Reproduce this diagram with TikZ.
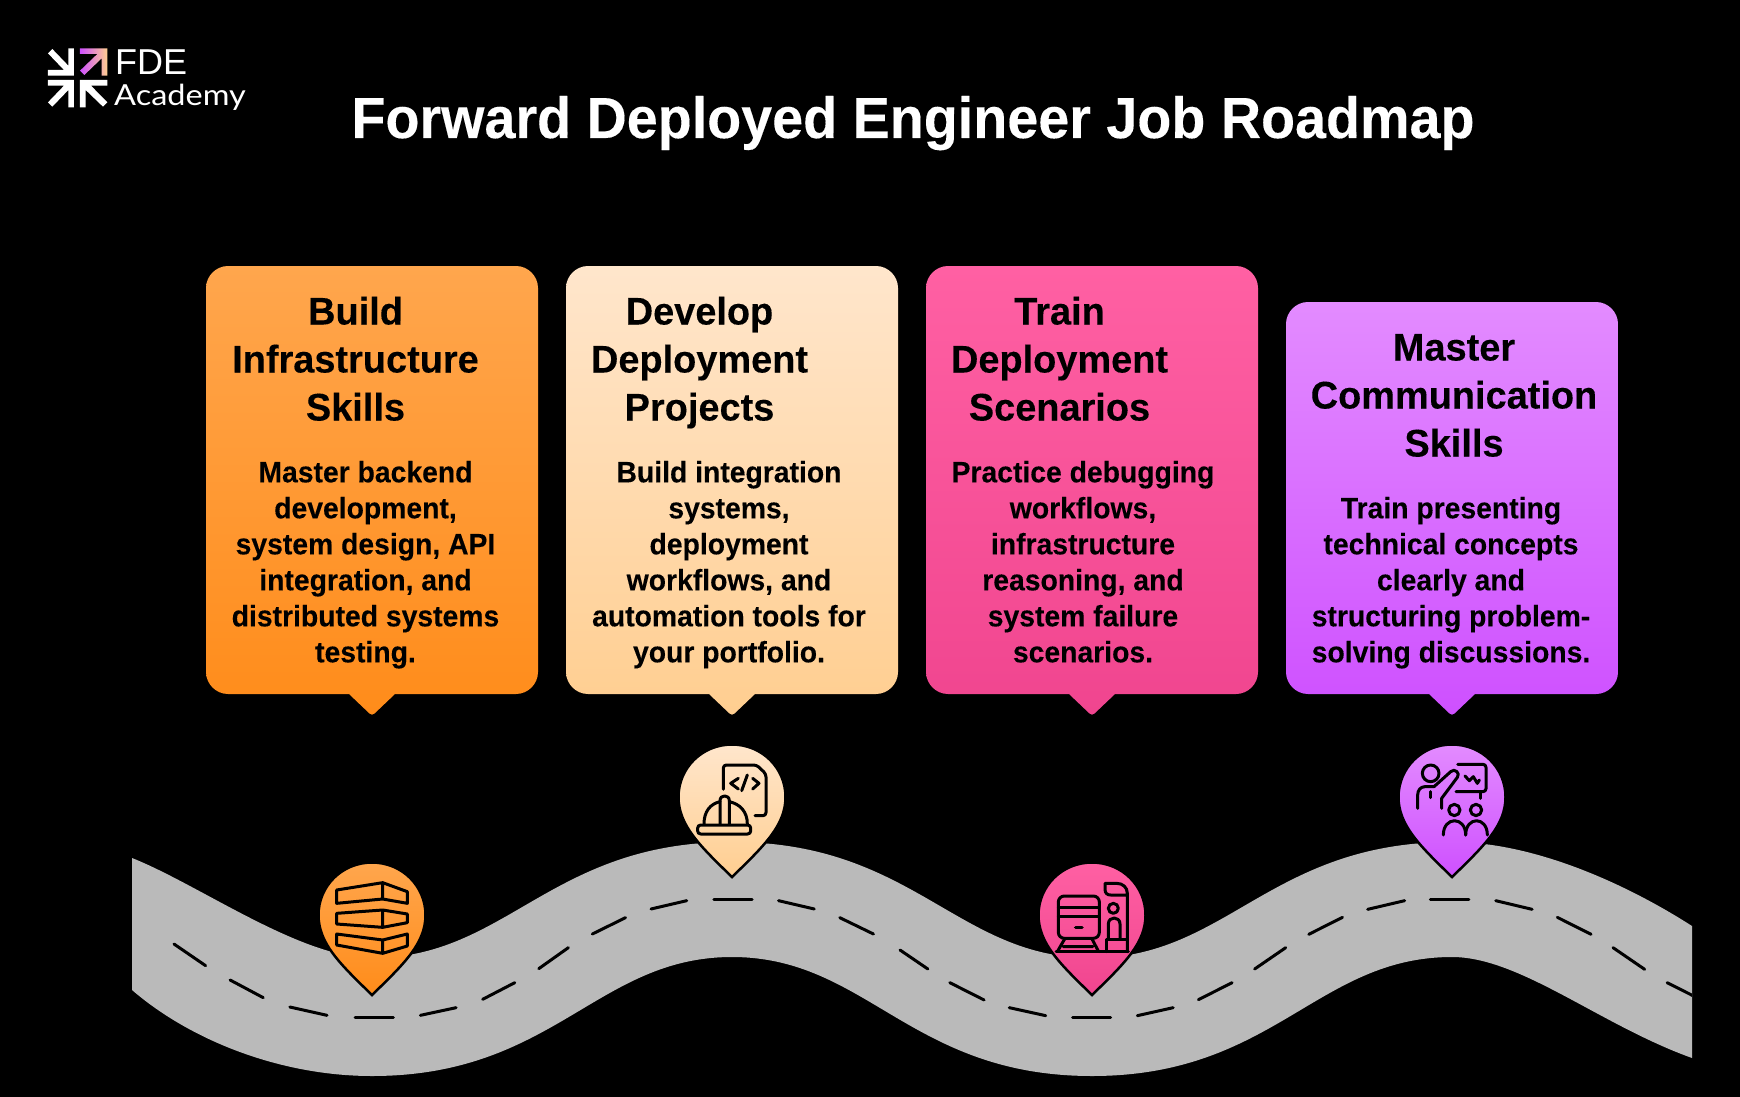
\documentclass[tikz,border=0pt]{standalone}
\usepackage{fontspec}
\setmainfont{Liberation Sans}
\newfontfamily\robo[FakeStretch=0.96,FakeBold=0.2]{Liberation Sans Bold}
\newfontfamily\robohead[FakeStretch=0.985,FakeBold=0.2]{Liberation Sans Bold}
\newfontfamily\acad[FakeStretch=1.12]{Lato}
\definecolor{oT}{HTML}{FFA64D}\definecolor{oB}{HTML}{FF8C1A}
\definecolor{cT}{HTML}{FFE6CC}\definecolor{cB}{HTML}{FFCE90}
\definecolor{pT}{HTML}{FF60A3}\definecolor{pB}{HTML}{F0458F}
\definecolor{vT}{HTML}{E38BFF}\definecolor{vB}{HTML}{CE50FF}
\definecolor{roadc}{HTML}{BABABA}
\tikzset{
  headtxt/.style={anchor=base,inner sep=0pt,align=center,text=black,font=\robohead\fontsize{38.5}{48}\selectfont},
  bodytxt/.style={anchor=base,inner sep=0pt,align=center,text=black,font=\robo\fontsize{29.5}{36}\selectfont},
  icon/.style={draw=black,line width=3pt,line cap=round,line join=round,fill=none},
  zoomthree/.style={x=0.33333pt,y=-0.33333pt},
  roaddash/.style={draw=black,line width=3pt,line cap=round},
}
\newcommand{\cardshape}[6]{% left right top bottom top-colour bottom-colour
  \pgfmathsetmacro{\cx}{(#1+#2)/2}
  \path[top color=#5,bottom color=#6]
    (#1+22,#3) -- (#2-22,#3) .. controls (#2-10,#3) and (#2,#3+10) .. (#2,#3+22)
    -- (#2,#4-22) .. controls (#2,#4-10) and (#2-10,#4) .. (#2-22,#4)
    -- (\cx+23,#4) -- (\cx+2.5,#4+19.5) .. controls (\cx+1,#4+21) and (\cx-1,#4+21) .. (\cx-2.5,#4+19.5)
    -- (\cx-23,#4) -- (#1+22,#4) .. controls (#1+10,#4) and (#1,#4-10) .. (#1,#4-22)
    -- (#1,#3+22) .. controls (#1,#3+10) and (#1+10,#3) .. (#1+22,#3) -- cycle;
}
\newcommand{\pinshape}[4]{% tip-x tip-y top bottom
  \path[draw=black,line width=2.5pt,line join=miter,top color=#3,bottom color=#4,shift={(#1,#2)}]
    (0,0) .. controls (-33,-32) and (-53.5,-52) .. (-53.5,-80)
    .. controls (-53.5,-109) and (-30,-132.5) .. (0,-132.5)
    .. controls (30,-132.5) and (53.5,-109) .. (53.5,-80)
    .. controls (53.5,-52) and (33,-32) .. (0,0) -- cycle;
}
\begin{document}
\begin{tikzpicture}[x=1pt,y=-1pt]
\useasboundingbox (0,0) rectangle (1740,1097);
\fill[black] (0,0) rectangle (1740,1097);

% logo
\begin{scope}[shift={(0,20)},zoomthree]
  \fill[white] (222,167)--(144,167)--(144,150)--(192,150)--(144,100)--(157,87)--(205,137)--(205,85)--(222,85)--cycle;
  \fill[white] (222,180)--(144,180)--(144,197)--(192,197)--(144,247)--(157,260)--(205,210)--(205,262)--(222,262)--cycle;
  \fill[white] (240,180)--(322,180)--(322,197)--(273,197)--(322,247)--(309,260)--(257,210)--(257,262)--(240,262)--cycle;
  \path[left color=vB,middle color=pT,right color=cB] (322,85)--(240,85)--(240,102)--(292,102)--(240,152)--(253,165)--(305,115)--(305,167)--(322,167)--cycle;
\end{scope}
\node[anchor=base west,inner sep=0pt,text=white,font=\fontsize{36}{36}\selectfont] (logofde) at (115,75) {FDE};
\node[anchor=base west,inner sep=0pt,text=white,font=\acad\fontsize{29}{29}\selectfont] (logoacad) at (114,106) {Academy};

% title
\node[anchor=base,inner sep=0pt,text=white,font=\robo\fontsize{58}{58}\selectfont] (title) at (913,138) {Forward Deployed Engineer Job Roadmap};

% cards
\cardshape{206}{538}{266}{694}{oT}{oB}
\cardshape{566}{898}{266}{694}{cT}{cB}
\cardshape{926}{1258}{266}{694}{pT}{pB}
\cardshape{1286}{1618}{302}{694}{vT}{vB}

% card texts
\node[headtxt] (h1) at (355.5,420.5) {Build\\Infrastructure\\Skills};
\node[headtxt] (h2) at (699.5,420.5) {Develop\\Deployment\\Projects};
\node[headtxt] (h3) at (1059.5,420.5) {Train\\Deployment\\Scenarios};
\node[headtxt] (h4) at (1454,456.5) {Master\\Communication\\Skills};
\node[bodytxt] (b1) at (365.5,662.3) {Master backend\\development,\\system design, API\\integration, and\\distributed systems\\testing.};
\node[bodytxt] (b2) at (729,662.3) {Build integration\\systems,\\deployment\\workflows, and\\automation tools for\\your portfolio.};
\node[bodytxt] (b3) at (1083,662.3) {Practice debugging\\workflows,\\infrastructure\\reasoning, and\\system failure\\scenarios.};
\node[bodytxt] (b4) at (1451,662.3) {Train presenting\\technical concepts\\clearly and\\structuring problem-\\solving discussions.};

% road
\fill[roadc] (132,858) .. controls (200,885) and (300,958) .. (372,958)
  .. controls (507,958) and (550,842) .. (732,842)
  .. controls (914,842) and (957,958) .. (1092,958)
  .. controls (1227,958) and (1270,842) .. (1452,842)
  .. controls (1530,842) and (1620,880) .. (1692,926)
  -- (1692,1058)
  .. controls (1600,1025) and (1520,957) .. (1452,957)
  .. controls (1317,957) and (1274,1076) .. (1092,1076)
  .. controls (910,1076) and (867,957) .. (732,957)
  .. controls (597,957) and (554,1076) .. (372,1076)
  .. controls (280,1076) and (190,1040) .. (132,990) -- cycle;

% road centre dashes
\begin{scope}[shift={(100,830)},x=0.5102pt,y=-0.33333pt]
  \foreach \a/\b/\c/\d in {145/342/207/407,255/450/320/503,372/531/445/556,500/563/575/563,628/556/698/533,750/508/813/458,860/416/918/353,965/312/1030/263,1080/237/1150/212,1203/207/1278/207,1330/212/1400/237,1450/263/1516/312}
    \draw[roaddash] (\a,\b) -- (\c,\d);
\end{scope}
\begin{scope}[shift={(900,830)},x=0.53571pt,y=-0.33333pt]
  \foreach \a/\b/\c/\d in {0/360/52/417,93/458/157/510,204/533/272/557,322/563/393/563,443/557/510/533,557/509/620/458,662/417/720/353,763/313/826/262,873/238/942/212,990/207/1062/207,1112/212/1180/238,1227/262/1290/313,1331/353/1390/418}
    \draw[roaddash] (\a,\b) -- (\c,\d);
  \begin{scope}
    \clip (0,0) rectangle (1478,801);
    \draw[roaddash] (1432,458) -- (1490,505);
  \end{scope}
\end{scope}

% pins
\pinshape{372}{995}{oT}{oB}
\pinshape{732}{877}{cT}{cB}
\pinshape{1092}{995}{pT}{pB}
\pinshape{1452}{877}{vT}{vB}

% icon 1: stacked blocks
\begin{scope}[shift={(290,840)},zoomthree]
  \draw[icon] (140,150)--(278,128)--(352,155)--(352,190)--(278,177)--(140,190)--cycle (278,128)--(278,177);
  \draw[icon] (140,220)--(278,210)--(352,222)--(352,248)--(278,262)--(140,252)--cycle (278,210)--(278,262);
  \draw[icon] (140,282)--(278,300)--(352,282)--(352,318)--(278,340)--(140,315)--cycle (278,300)--(278,340);
\end{scope}

% icon 2: document and helmet
\begin{scope}[shift={(660,730)},zoomthree]
  \draw[icon,rounded corners=3pt] (190,178)--(190,105)--(290,105)--(318,132)--(318,257)--(285,257);
  \draw[icon] (235,145)--(212,160)--(235,177) (278,145)--(297,160)--(278,177) (262,135)--(245,182);
  \draw[icon] (132,282) .. controls (132,245) and (150,222) .. (180,215);
  \draw[icon] (208,215) .. controls (240,222) and (262,245) .. (262,282);
  \draw[icon] (180,282)--(180,212) .. controls (180,193) and (208,193) .. (208,212)--(208,282);
  \draw[icon,rounded corners=3pt] (113,285) rectangle (272,312);
\end{scope}

% icon 3: train and station
\begin{scope}[shift={(1020,850)},zoomthree]
  \draw[icon,rounded corners=6pt] (115,265)--(115,138)--(238,138)--(238,265)--cycle;
  \draw[icon] (115,172)--(238,172) (115,200)--(238,200);
  \draw[icon,line width=3.5pt] (167,233)--(186,233);
  \draw[icon] (135,265)--(112,305) (215,265)--(236,305) (130,290)--(218,290);
  \draw[icon] (108,305)--(325,305);
  \draw[icon] (322,305)--(322,130) .. controls (322,112) and (308,100) .. (290,100)--(255,100)--(255,118) .. controls (255,130) and (262,135) .. (272,135)--(322,135);
  \draw[icon] (280,175) circle [radius=15];
  \draw[icon] (265,268)--(265,222) .. controls (265,198) and (300,198) .. (300,222)--(300,268);
  \draw[icon] (258,305)--(258,268)--(322,268);
\end{scope}

% icon 4: presenter and audience
\begin{scope}[shift={(1380,730)},zoomthree]
  \draw[icon] (152,130) circle [radius=25];
  \draw[icon] (113,235)--(113,195) .. controls (113,180) and (122,170) .. (135,170)--(162,170)--(212,125) .. controls (224,113) and (242,130) .. (232,142)--(185,205)--(185,235);
  \draw[icon] (152,185)--(152,203);
  \draw[icon,rounded corners=3pt] (233,103)--(318,103)--(318,185)--(228,185);
  \draw[icon] (300,185)--(300,205);
  \draw[icon] (255,138)--(268,152)--(280,140)--(292,160)--(298,150);
  \draw[icon] (223,240) circle [radius=17];
  \draw[icon] (288,240) circle [radius=17];
  \draw[icon] (190,315) .. controls (190,258) and (257,258) .. (257,315);
  \draw[icon] (257,315) .. controls (257,258) and (322,258) .. (322,315);
\end{scope}
\end{tikzpicture}
\end{document}
